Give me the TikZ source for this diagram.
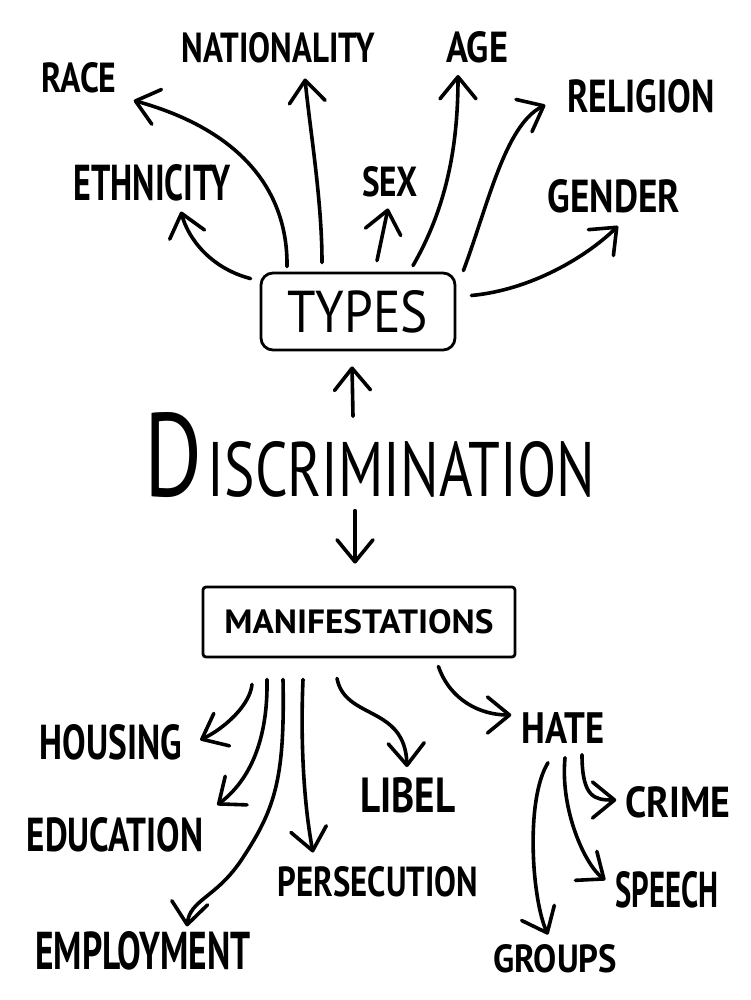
\documentclass[tikz,border=0pt]{standalone}
\usepackage{graphicx}
\usepackage{fontspec}
\setsansfont{PT Sans}
\usepackage{tikz}
\usetikzlibrary{arrows.meta}
\newcommand{\handtext}[3]{\resizebox{#1pt}{#2pt}{#3}}
\tikzset{
  lbl/.style={inner sep=0pt,font=\sffamily\bfseries},
  box/.style={draw,line width=2.8pt,inner sep=0pt,font=\sffamily\bfseries},
  branch/.style={line width=3.6pt,line cap=round,-{Straight Barb[length=22pt,width=36pt,round]}}
}
\begin{document}
\begin{tikzpicture}[x=1pt,y=-1pt]
\useasboundingbox (0,0) rectangle (750,1000);
%% types
\node[lbl] (race) at (79,78) {\handtext{75}{30}{RACE}};
\node[lbl] (nationality) at (278,48) {\handtext{193}{30}{NATIONALITY}};
\node[lbl] (age) at (477,47) {\handtext{62}{31}{AGE}};
\node[lbl] (religion) at (641,96) {\handtext{147}{33}{RELIGION}};
\node[lbl] (ethnicity) at (152,183) {\handtext{157}{36}{ETHNICITY}};
\node[lbl] (sex) at (390,182) {\handtext{56}{30}{SEX}};
\node[lbl] (gender) at (614,196) {\handtext{132}{33}{GENDER}};
\node[box,font=\sffamily,rounded corners=12pt,minimum width=194pt,minimum height=77pt] (types) at (358,311.5) {\handtext{140}{42}{TYPES}};
%% centre
\node[lbl,font=\sffamily] (disc) at (370,455) {\handtext{58}{84}{D}\hspace{5pt}\handtext{387}{55}{ISCRIMINATION}};
%% manifestations
\node[box,rounded corners=3pt,minimum width=312pt,minimum height=70pt] (manif) at (359,622) {\handtext{269}{24}{MANIFESTATIONS}};
\node[lbl] (housing) at (111,742) {\handtext{142}{35}{HOUSING}};
\node[lbl] (education) at (115,835) {\handtext{176}{34}{EDUCATION}};
\node[lbl] (employment) at (143,951) {\handtext{215}{38}{EMPLOYMENT}};
\node[lbl] (persecution) at (378,882) {\handtext{200}{30}{PERSECUTION}};
\node[lbl] (libel) at (408,795) {\handtext{95}{35}{LIBEL}};
\node[lbl] (hate) at (563,728) {\handtext{83}{31}{HATE}};
\node[lbl] (crime) at (678,802) {\handtext{105}{31}{CRIME}};
\node[lbl] (speech) at (667,890) {\handtext{103}{36}{SPEECH}};
\node[lbl] (groups) at (555,959) {\handtext{124}{28}{GROUPS}};
%% arrows to the types
\draw[branch] ([shift={(-71,-5)}]types.north) .. controls (288,190) and (240,130) .. ([shift={(17,7)}]race.south east);
\draw[branch] ([shift={(-9,7)}]types.north west) .. controls (210,268) and (188,238) .. ([shift={(29,10)}]ethnicity.south);
\draw[branch] ([shift={(-36,-9)}]types.north) .. controls (322,200) and (310,130) .. ([shift={(27,15)}]nationality.south);
\draw[branch] ([shift={(19,-11)}]types.north) -- ([shift={(-2,11)}]sex.south);
\draw[branch] ([shift={(55,-6)}]types.north) .. controls (445,210) and (458,150) .. ([shift={(-19,12)}]age.south);
\draw[branch] ([shift={(7,-1)}]types.north east) .. controls (488,205) and (505,125) .. ([shift={(-22,9)}]religion.west);
\draw[branch] ([shift={(15,-16)}]types.east) .. controls (530,290) and (585,258) .. ([shift={(4,13)}]gender.south);
%% up and down
\draw[branch] ([shift={(-17,4)}]disc.north) -- ([shift={(-6,15)}]types.south);
\draw[branch] ([shift={(-15,13)}]disc.south) -- ([shift={(-4,-22)}]manif.north);
%% arrows to the manifestations
\draw[branch] ([shift={(-107,26)}]manif.south) .. controls (250,705) and (225,728) .. ([shift={(18,-2)}]housing.east);
\draw[branch] ([shift={(-92,21)}]manif.south) .. controls (268,740) and (250,780) .. ([shift={(14,-30)}]education.east);
\draw[branch] ([shift={(-76,21)}]manif.south) .. controls (285,780) and (275,810) .. (240,862) .. controls (215,898) and (190,900) .. ([shift={(44,-5)}]employment.north);
\draw[branch] ([shift={(-56,21)}]manif.south) .. controls (300,750) and (305,810) .. ([shift={(-65,-14)}]persecution.north);
\draw[branch] ([shift={(-22,20)}]manif.south) .. controls (345,720) and (405,705) .. ([shift={(-1,-10)}]libel.north);
\draw[branch] ([shift={(-78,8)}]manif.south east) .. controls (450,700) and (480,715) .. ([shift={(-10,-13)}]hate.west);
%% hate
\draw[branch] ([shift={(-15,19)}]hate.south) .. controls (525,800) and (532,900) .. ([shift={(-7,-10)}]groups.north);
\draw[branch] ([shift={(2,14)}]hate.south) .. controls (560,810) and (585,865) .. ([shift={(-10,-10)}]speech.west);
\draw[branch] ([shift={(19,11)}]hate.south) .. controls (582,798) and (595,800) .. ([shift={(-9,-2)}]crime.west);
\end{tikzpicture}
\end{document}
